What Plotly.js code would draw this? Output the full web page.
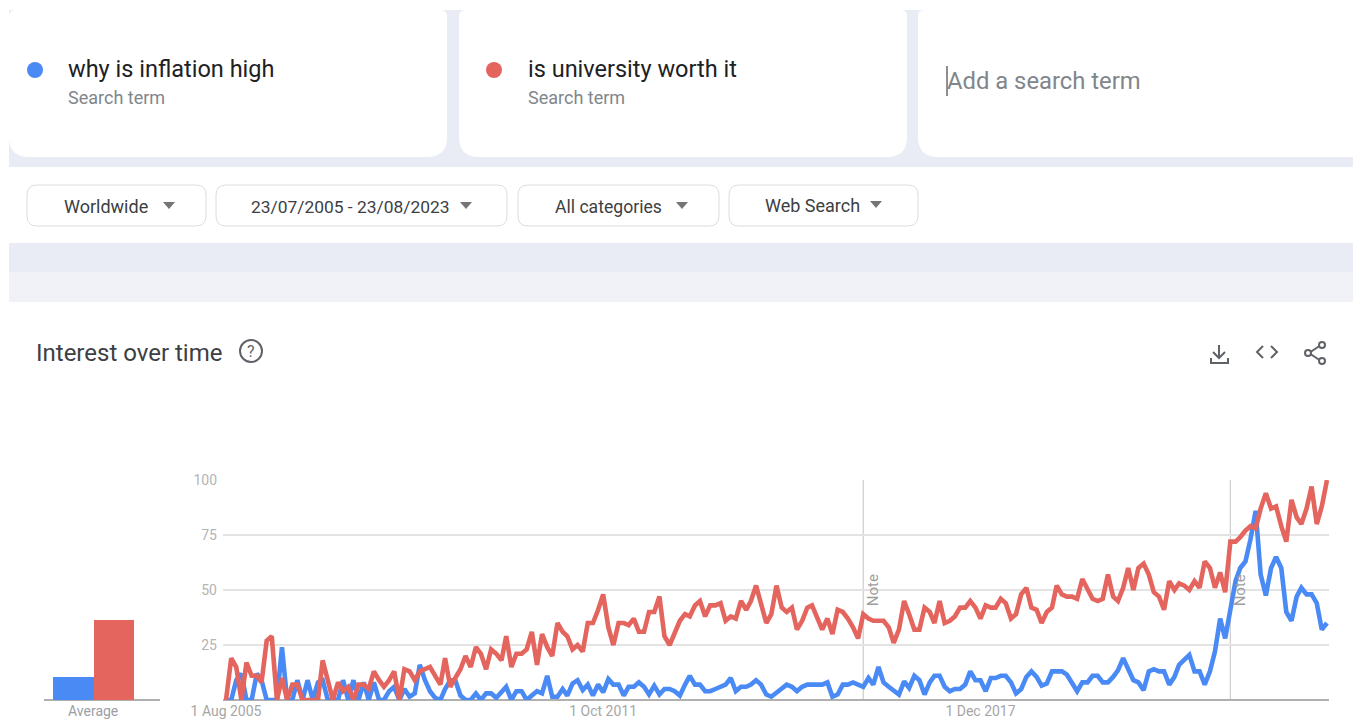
<!DOCTYPE html>
<html>
<head>
<meta charset="utf-8">
<script src="https://cdn.plot.ly/plotly-3.0.1.min.js"></script>
<style>
html,body{margin:0;padding:0;background:#fff;overflow:hidden}
#chart{width:1353px;height:719px}
</style>
</head>
<body>
<div id="chart"></div>
<script>
const termNames = ["why is inflation high", "is university worth it"];
const inflationValues = [0,0,9,12,0,0,12,9,0,0,0,24,0,0,9,0,9,0,8,9,0,0,0,9,0,9,0,8,0,8,0,0,4,6,0,5,1.5,3,16,9,4,1,0,5,9,9,2,0,0,3,0,3,3,1,4,6,0,4,4,0,2,4,3,11,1.5,1.5,5,2,7.5,9,4.5,7,2,7,3.5,9.5,7,7,2,6,6,8,6,2.5,6.5,2.5,5,5,4,2,7,11,7,7,4,4,5,6,7,10,4,6,6,7,9,7,2.5,1.5,3.5,5,7,6,4,6,7,7,7,7,8,1.5,2.5,7,7,8,7,6,10,7,15,8,6,4,2.5,8.5,5.5,11,9,2.5,8,11,11,6,4,5,5,7,13,9,9,4,10,10,11,11,8,3,5,10.5,13,10.5,6.5,7.5,13,13,13,11.5,7.5,4,8,8,11,11,8,8,10.5,13.5,19,13.5,9,8,4.5,13,14,13,13,7,10.5,16,18,20.5,13,13,7,13,22,37,28,42,54,60,63,73,86,57,47.5,60,65,60,40,36,47,51,48,48,44,32,35];
const universityValues = [0,19,15,0,17,11,11,8,27,29,0,10,0,7,7,0,0,0,0,18,8,0,8,4,6,0,7,7,5,13,9,6,9,13,0,14,13,9,13,14,15,11,7,19,6,10,14,20,15,24,21,14,23,21,18,29,15,21,21,23,31,16,30,24,20,35,31,29,23,25,22,35,35,41,48,33,25,35,35,34,37,31,31,40,40,47,29,25,30,36,39,38,43,45,38,43,43,44,36,38,37,45,41,45,52,44,35,39,52,42,40,42,32,36,42,43,38,32,37,30,41,40,37,33,28,39,37,36,36,36,33,26,32,45,39,32,32,42,40,35,45,35,36,38,42,42,45,42,37,43,42,42,46,44,37,39,48,51,42,41,35,40,42,52,48,47,47,46,55,50,46,45,46,57,47,45,51,60,50,60,62,57,49,47,41,54,50,53,52,50,54,51,63,60,51,58,49,72,72,74,77,79,78,87,94,87,88,79,72,91,83,80,87,97,80,88,100];
const averageValues = [10.5, 36.5];
const noteDates = ["2016-01-01", "2022-01-01"];
const xTickDates = ["2005-08-01", "2011-10-01", "2017-12-01"];
const xTickLabels = ["1 Aug 2005", "1 Oct 2011", "1 Dec 2017"];
const yTicks = [25, 50, 75, 100];
const BLUE = "#4a8af4", RED = "#e4645e";

const months = inflationValues.map((_, i) => {
  const y = 2005 + Math.floor((7 + i) / 12), m = (7 + i) % 12 + 1;
  return y + "-" + String(m).padStart(2, "0") + "-01";
});

const W = 1353, H = 719;
const X = p => p / W, Y = p => 1 - p / H;
const FONT = "Roboto, Arial, sans-serif";

function rect(x0, y0, x1, y1, fill) {
  return {type:"rect", xref:"paper", yref:"paper", x0:X(x0), x1:X(x1), y0:Y(y0), y1:Y(y1),
          fillcolor:fill, line:{width:0}, layer:"below"};
}
function pth(cmds, opt) {
  const s = cmds.map(c => c[0] + " " + c.slice(1).map((v, i) => i % 2 === 0 ? X(v) : Y(v)).join(" ")).join(" ");
  return Object.assign({type:"path", xref:"paper", yref:"paper", path:s, layer:"below", line:{width:0}}, opt);
}
function rounded(x0, y0, x1, y1, rt, rb, fill, line) {
  return pth([["M",x0+rt,y0],["L",x1-rt,y0],["Q",x1,y0,x1,y0+rt],["L",x1,y1-rb],["Q",x1,y1,x1-rb,y1],
              ["L",x0+rb,y1],["Q",x0,y1,x0,y1-rb],["L",x0,y0+rt],["Q",x0,y0,x0+rt,y0],["Z"]],
             {fillcolor:fill, line: line || {width:0}});
}
function circle(cx, cy, r, fill, line) {
  return {type:"circle", xref:"paper", yref:"paper", x0:X(cx-r), x1:X(cx+r), y0:Y(cy+r), y1:Y(cy-r),
          fillcolor:fill, line: line || {width:0}, layer:"below"};
}
function tri(cx, cy) {
  return pth([["M",cx-6,cy-3],["L",cx+6,cy-3],["L",cx,cy+4],["Z"]], {fillcolor:"#757575"});
}
function txt(text, x, y, size, color, anchor) {
  return {text, xref:"paper", yref:"paper", x:X(x), y:Y(y), xanchor:anchor||"left", yanchor:"middle",
          showarrow:false, borderpad:0, borderwidth:0, font:{family:FONT, size, color}};
}
const iconLine = {width:2, color:"#5f6368"};

const shapes = [
  rect(9, 10, W, 272, "#e9ebf5"),
  rect(9, 272, W, 302, "#f1f2f8"),
  rounded(9, 10, 447, 157, 6, 20, "#ffffff"),
  rounded(459, 10, 907, 157, 6, 20, "#ffffff"),
  rounded(918, 10, W+25, 157, 6, 20, "#ffffff"),
  rect(9, 167, W, 243, "#ffffff"),
  rounded(9, 302, W, 760, 20, 0, "#ffffff"),
  rounded(27, 185, 206, 226, 10, 10, "#ffffff", {width:1, color:"#dadce0"}),
  rounded(216, 185, 507, 226, 10, 10, "#ffffff", {width:1, color:"#dadce0"}),
  rounded(518, 185, 719, 226, 10, 10, "#ffffff", {width:1, color:"#dadce0"}),
  rounded(729, 185, 918, 226, 10, 10, "#ffffff", {width:1, color:"#dadce0"}),
  tri(169, 205), tri(466, 205), tri(682, 205), tri(876, 204),
  circle(35, 70, 8, BLUE),
  circle(494, 70, 8, RED),
  pth([["M",947,66],["L",947,96]], {line:{width:1, color:"#202124"}}),
  circle(251, 351, 11, "rgba(0,0,0,0)", {width:2, color:"#5f6368"}),
  // download icon
  pth([["M",1219,345],["L",1219,358]], {line:iconLine}),
  pth([["M",1213,352],["L",1219,358],["L",1225,352]], {line:iconLine}),
  pth([["M",1211,358],["L",1211,363],["L",1228,363],["L",1228,358]], {line:iconLine}),
  // code icon
  pth([["M",1263,346],["L",1257,352],["L",1263,358]], {line:iconLine}),
  pth([["M",1271,346],["L",1277,352],["L",1271,358]], {line:iconLine}),
  // share icon
  pth([["M",1321,345],["L",1309,353],["L",1321,361]], {line:iconLine}),
  circle(1322, 345, 3, "#ffffff", iconLine),
  circle(1308, 353, 3, "#ffffff", iconLine),
  circle(1322, 361, 3, "#ffffff", iconLine),
];
noteDates.forEach(d => shapes.push({type:"line", xref:"x", yref:"y", x0:d, x1:d, y0:0, y1:100,
  line:{width:1.3, color:"#d0d0d0"}, layer:"below"}));

const annotations = [
  txt(termNames[0], 68, 69, 23.5, "#202124"),
  txt("Search term", 68, 97, 18, "#80868b"),
  txt(termNames[1], 528, 69, 23.5, "#202124"),
  txt("Search term", 528, 97, 18, "#80868b"),
  txt("Add a search term", 947, 81, 23.8, "#80868b"),
  txt("Worldwide", 106, 207, 18, "#3c4043", "center"),
  txt("23/07/2005 - 23/08/2023", 351, 207, 17.4, "#3c4043", "center"),
  txt("All categories", 608, 207, 17.6, "#3c4043", "center"),
  txt("Web Search", 813, 206, 18, "#3c4043", "center"),
  txt("?", 251, 351, 16, "#5f6368", "center"),
  txt("Average", 93, 711, 14, "#9aa0a6", "center"),
];
noteDates.forEach(d => annotations.push({text:"Note", xref:"x", yref:"y", x:d, y:50, xshift:10, textangle:-90,
  showarrow:false, xanchor:"center", yanchor:"middle", font:{family:FONT, size:15, color:"#9e9e9e"}}));

const traces = [
  {type:"scatter", mode:"lines", name:termNames[0], x:months, y:inflationValues, xaxis:"x", yaxis:"y",
   line:{color:BLUE, width:4.6, shape:"linear"}, hoverinfo:"skip"},
  {type:"scatter", mode:"lines", name:termNames[1], x:months, y:universityValues, xaxis:"x", yaxis:"y",
   line:{color:RED, width:4.6, shape:"linear"}, hoverinfo:"skip"},
  {type:"bar", name:"Average", x:termNames, y:averageValues, xaxis:"x2", yaxis:"y2",
   marker:{color:[BLUE, RED]}, width:1, hoverinfo:"skip"},
];

const layout = {
  width:W, height:H, margin:{l:0, r:0, t:0, b:0, pad:0},
  paper_bgcolor:"#ffffff", plot_bgcolor:"rgba(0,0,0,0)",
  showlegend:false, bargap:0, font:{family:FONT},
  title:{text:"Interest over time", xref:"container", yref:"container", x:X(36), y:Y(353),
         xanchor:"left", yanchor:"middle", font:{family:FONT, size:24, color:"#3c4043"}, automargin:false},
  xaxis:{type:"date", domain:[X(223), X(1329)], range:["2005-07-14", "2023-08-13"], tickmode:"array",
         tickvals:xTickDates, ticktext:xTickLabels, showgrid:false, ticks:"", zeroline:false,
         showline:false, tickfont:{family:FONT, size:14, color:"#a6a6a6"}, ticklabelstandoff:1, anchor:"y", fixedrange:true},
  yaxis:{domain:[1-700/H, 1-480/H], range:[0,100], tickmode:"array", tickvals:yTicks, ticktext:yTicks.map(String),
         showgrid:true, gridcolor:"#e3e3e3", gridwidth:1.5, zeroline:true, zerolinecolor:"#b0b0b0", zerolinewidth:1.5,
         ticks:"", showline:false, tickfont:{family:FONT, size:14, color:"#b4b4b4"}, ticklabelstandoff:5, anchor:"x", fixedrange:true},
  xaxis2:{type:"category", domain:[X(44), X(160)], range:[-0.722, 2.14], showticklabels:false, ticks:"", showgrid:false,
          zeroline:false, showline:false, anchor:"y2", fixedrange:true},
  yaxis2:{domain:[1-700/H, 1-480/H], range:[0,100], showticklabels:false, ticks:"", showgrid:false, zeroline:true,
          zerolinecolor:"#b0b0b0", zerolinewidth:1.5, showline:false, anchor:"x2", fixedrange:true},
  shapes, annotations,
};
Plotly.newPlot("chart", traces, layout, {displayModeBar:false, staticPlot:true}).then(() => {
  document.querySelectorAll(".scatterlayer .js-line").forEach(el => { el.style.strokeLinejoin = "miter"; });
});
</script>
</body>
</html>
